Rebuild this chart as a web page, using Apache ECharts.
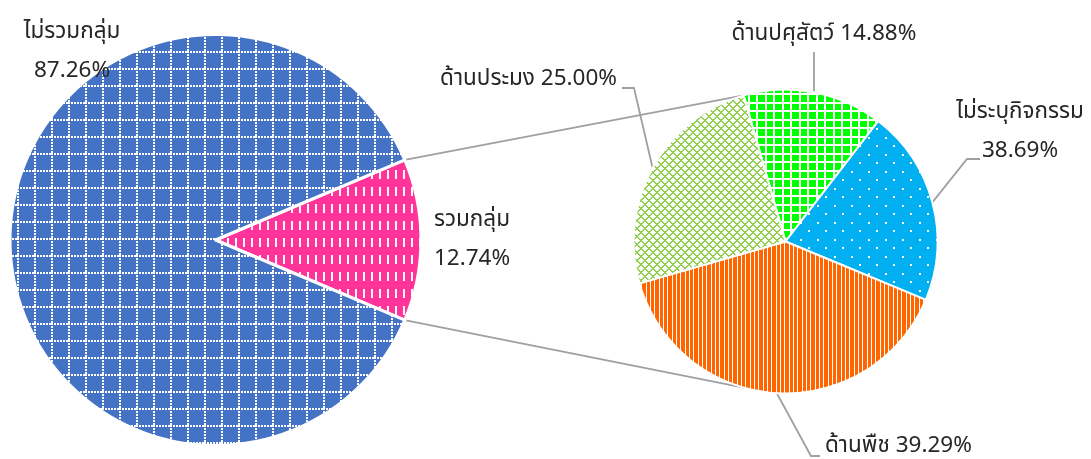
<!DOCTYPE html>
<html>
<head>
<meta charset="utf-8">
<script src="https://cdn.jsdelivr.net/npm/echarts@6/dist/echarts.min.js"></script>
<style>
html,body{margin:0;padding:0;background:#fff;}
#chart{width:1091px;height:459px;}
</style>
</head>
<body>
<div id="chart"></div>
<script>
// ---- data ----
const mainCategories = ['รวมกลุ่ม', 'ไม่รวมกลุ่ม'];
const mainValues = [12.74, 87.26];
const mainLabels = ['12.74%', '87.26%'];
const subCategories = ['ด้านปศุสัตว์', 'ไม่ระบุกิจกรรม', 'ด้านพืช', 'ด้านประมง'];
const subValues = [14.88, 20.83, 39.29, 25.00];
const subLabels = ['14.88%', '38.69%', '39.29%', '25.00%'];

// ---- patterns ----
function tile(w, h, draw) {
  const c = document.createElement('canvas');
  c.width = w; c.height = h;
  const g = c.getContext('2d');
  draw(g, w, h);
  return { image: c, repeat: 'repeat' };
}
const patBlueGrid = tile(17, 17, (g) => {
  g.fillStyle = '#4472C4'; g.fillRect(0, 0, 17, 17);
  g.fillStyle = '#ffffff';
  for (let i = 0; i < 17; i += 3) { g.fillRect(0, i, 2, 2); g.fillRect(i, 0, 2, 2); }
});
const patPinkDash = tile(8, 17, (g) => {
  g.fillStyle = '#FF3399'; g.fillRect(0, 0, 8, 17);
  g.fillStyle = '#ffffff'; g.fillRect(3, 0, 2, 9);
});
const patCyanDots = tile(17, 17, (g) => {
  g.fillStyle = '#00B0F0'; g.fillRect(0, 0, 17, 17);
  g.fillStyle = '#ffffff'; g.fillRect(1, 1, 2, 2); g.fillRect(9, 9, 2, 2);
});
const patGreenGrid = tile(17, 17, (g) => {
  g.fillStyle = '#ffffff'; g.fillRect(0, 0, 17, 17);
  g.fillStyle = '#00FF00';
  g.fillRect(2, 2, 6, 6); g.fillRect(10, 2, 7, 6);
  g.fillRect(2, 10, 6, 7); g.fillRect(10, 10, 7, 7);
});
const patOrangeStripe = tile(13, 4, (g) => {
  g.fillStyle = '#FF6600'; g.fillRect(0, 0, 13, 4);
  g.fillStyle = '#ffffff'; g.fillRect(0, 0, 1, 4); g.fillRect(4, 0, 1, 4); g.fillRect(9, 0, 1, 4);
});
const patLimeDiamond = tile(8, 8, (g) => {
  g.fillStyle = '#ffffff'; g.fillRect(0, 0, 8, 8);
  g.fillStyle = '#92D050';
  for (let x = 0; x < 8; x++) for (let y = 0; y < 8; y++) {
    const a = (x + y) % 8, b = (x - y + 8) % 8;
    if (a <= 1 || b <= 1) g.fillRect(x, y, 1, 1);
  }
});
const mainColors = [patPinkDash, patBlueGrid];
const subColors = [patGreenGrid, patCyanDots, patOrangeStripe, patLimeDiamond];

// ---- geometry ----
const c1 = [215.5, 240], r1 = 205.5;
const c2 = [785.5, 241.5], r2 = 152;
const sumMain = mainValues.reduce((a, b) => a + b, 0);
const mainStart = mainValues[0] / sumMain * 180;
const subStart = 106;

const rad = Math.PI / 180;
const pTop = [c1[0] + r1 * Math.cos(mainStart * rad), c1[1] - r1 * Math.sin(mainStart * rad)];
const pBot = [c1[0] + r1 * Math.cos(mainStart * rad), c1[1] + r1 * Math.sin(mainStart * rad)];
const qTop = [c2[0] + r2 * Math.cos(subStart * rad), c2[1] - r2 * Math.sin(subStart * rad)];
const qBot = [c2[0] + r2 * Math.cos(subStart * rad), c2[1] + r2 * Math.sin(subStart * rad)];

const FONT = '"Noto Sans Thai", "Leelawadee UI", Tahoma, "Noto Sans", sans-serif';
const textBase = { fontFamily: FONT, fontSize: 22.5, color: '#262626', lineHeight: 39, overflow: 'none', position: 'outside', alignTo: 'none' };

// label placement (x, y, align)
const mainLabelPos = [
  { x: 472, y: 241, align: 'center' },
  { x: 72, y: 53, align: 'center' }
];
const subLabelPos = [
  { x: 824, y: 35, align: 'center', bend: (p) => [p[0], p[1] - 18], end: (p) => [p[0], 52] },
  { x: 1020, y: 133, align: 'center', bend: () => [967, 159], end: () => [980, 159] },
  { x: 825, y: 447, align: 'left', bend: () => [811, 456], end: () => [820, 456] },
  { x: 617, y: 80, align: 'right', bend: () => [634, 88], end: () => [622, 88] }
];

const chart = echarts.init(document.getElementById('chart'), null, { renderer: 'canvas' });
chart.setOption({
  animation: false,
  backgroundColor: '#ffffff',
  graphic: [
    { type: 'line', z: 0, shape: { x1: pTop[0], y1: pTop[1], x2: qTop[0], y2: qTop[1] }, style: { stroke: '#A0A0A0', lineWidth: 1.8 } },
    { type: 'line', z: 0, shape: { x1: pBot[0], y1: pBot[1], x2: qBot[0], y2: qBot[1] }, style: { stroke: '#A0A0A0', lineWidth: 1.8 } }
  ],
  series: [
    {
      type: 'pie',
      center: c1,
      radius: r1,
      startAngle: mainStart,
      clockwise: true,
      silent: true,
      avoidLabelOverlap: false,
      emphasis: { disabled: true },
      itemStyle: { borderColor: '#ffffff', borderWidth: 3 },
      label: Object.assign({ show: true, formatter: (p) => p.name + '\n' + mainLabels[p.dataIndex] }, textBase),
      labelLine: { show: false },
      labelLayout: (p) => ({ x: mainLabelPos[p.dataIndex].x, y: mainLabelPos[p.dataIndex].y, align: mainLabelPos[p.dataIndex].align, verticalAlign: 'middle', hideOverlap: false }),
      data: mainCategories.map((n, i) => ({ name: n, value: mainValues[i], itemStyle: { color: mainColors[i] } }))
    },
    {
      type: 'pie',
      center: c2,
      radius: r2,
      startAngle: subStart,
      clockwise: true,
      silent: true,
      avoidLabelOverlap: false,
      emphasis: { disabled: true },
      itemStyle: { borderColor: '#ffffff', borderWidth: 2 },
      label: Object.assign({
        formatter: (p) => p.dataIndex === 1 ? p.name + '\n' + subLabels[p.dataIndex] : p.name + ' ' + subLabels[p.dataIndex]
      }, textBase, { show: true }),
      labelLine: { show: true, lineStyle: { color: '#A0A0A0', width: 1.8 } },
      labelLayout: (p) => {
        const s = subLabelPos[p.dataIndex];
        const e = p.labelLinePoints ? p.labelLinePoints[0] : [0, 0];
        return { x: s.x, y: s.y, align: s.align, verticalAlign: 'middle', hideOverlap: false, labelLinePoints: [e, s.bend(e), s.end(e)] };
      },
      data: subCategories.map((n, i) => ({ name: n, value: subValues[i], itemStyle: { color: subColors[i] } }))
    }
  ]
});
</script>
</body>
</html>
